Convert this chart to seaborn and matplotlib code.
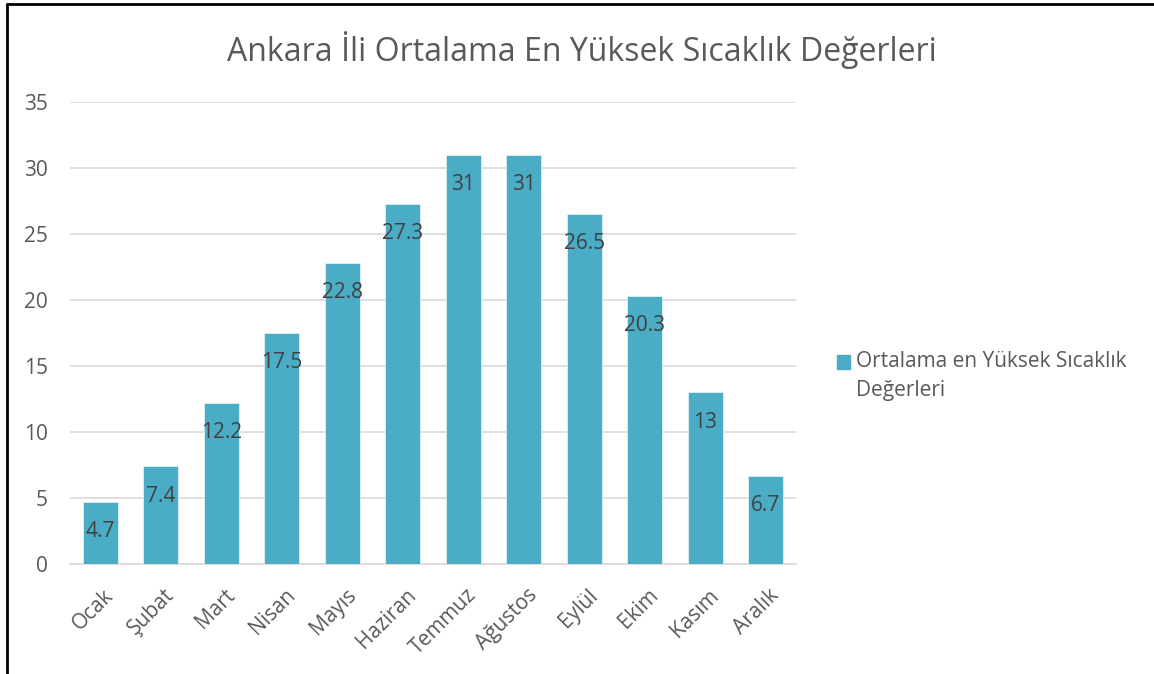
import matplotlib
matplotlib.use("Agg")
import matplotlib.pyplot as plt
import matplotlib.transforms as mtransforms
import seaborn as sns
import pandas as pd
from matplotlib.patches import Patch
from matplotlib.lines import Line2D

months = ["Ocak", "Şubat", "Mart", "Nisan", "Mayıs", "Haziran", "Temmuz",
          "Ağustos", "Eylül", "Ekim", "Kasım", "Aralık"]
values = [4.7, 7.4, 12.2, 17.5, 22.8, 27.3, 31, 31, 26.5, 20.3, 13, 6.7]
labels = ["4.7", "7.4", "12.2", "17.5", "22.8", "27.3", "31", "31", "26.5", "20.3", "13", "6.7"]
yticks = [0, 5, 10, 15, 20, 25, 30, 35]
title = "Ankara İli Ortalama En Yüksek Sıcaklık Değerleri"
series_name = "Ortalama en Yüksek Sıcaklık\nDeğerleri"

sns.set_theme(style="white")
plt.rcParams['font.family'] = ['Open Sans', 'DejaVu Sans']

color = "#4BACC6"
text_color = "#595959"

df = pd.DataFrame({"month": months, "value": values})

fig = plt.figure(figsize=(11.54, 6.74), dpi=100)
ax = fig.add_axes([70/1154, 1 - 564/674, (796-70)/1154, (564-102)/674])

sns.barplot(data=df, x="month", y="value", color=color, width=0.58,
            saturation=1, ax=ax, zorder=3, edgecolor="#DDF0F5", linewidth=0.6)

ax.set_ylim(0, 35)
ax.set_xlim(-0.5, 11.5)
ax.set_yticks(yticks)
ax.yaxis.grid(True, color="#D9D9D9", linewidth=1.2, zorder=0)
ax.set_axisbelow(True)
for s in ["top", "right", "left"]:
    ax.spines[s].set_visible(False)
ax.spines["bottom"].set_color("#D9D9D9")
ax.spines["bottom"].set_linewidth(1.2)
ax.set_xlabel("")
ax.set_ylabel("")
ax.tick_params(axis="y", labelsize=15, colors=text_color, length=0, pad=16)
ax.tick_params(axis="x", labelsize=15, colors=text_color, length=0, pad=15)
shift = mtransforms.ScaledTranslation(3/100, 0, fig.dpi_scale_trans)
for lbl in ax.get_xticklabels():
    lbl.set_rotation(45)
    lbl.set_horizontalalignment("right")
    lbl.set_rotation_mode("anchor")
    lbl.set_transform(lbl.get_transform() + shift)

for c in ax.containers:
    ax.bar_label(c, labels=labels, label_type="edge", padding=-29,
                 fontsize=15, color="#404040")

fig.text(582/1154, 1 - 50/674, title, ha="center", va="center",
         fontsize=23, color=text_color)

handle = Patch(facecolor=color, edgecolor=color)
leg = fig.legend([handle], [series_name], loc="center left",
                 bbox_to_anchor=(818/1154, 1 - 376/674), frameon=False,
                 fontsize=15, handlelength=0.65, handleheight=0.65,
                 handletextpad=0.25, labelspacing=0.2, borderpad=0.4)
for t in leg.get_texts():
    t.set_color(text_color)
    t.set_linespacing(1.45)
for h in leg.legend_handles:
    h.set_y(h.get_y() + 10.5)

# border lines (left and top)
fig.add_artist(Line2D([7/1154, 7/1154], [0, 1 - 4/674], color="black",
                      linewidth=2, transform=fig.transFigure))
fig.add_artist(Line2D([7/1154, 1], [1 - 4/674, 1 - 4/674], color="black",
                      linewidth=2, transform=fig.transFigure))

fig.savefig("out.png", dpi=100)
